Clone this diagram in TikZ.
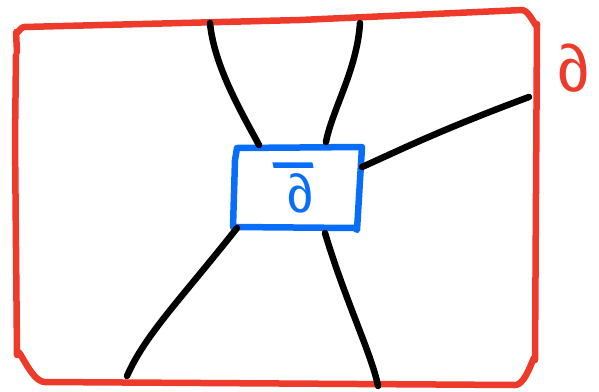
\documentclass[tikz,border=0pt]{standalone}
\usepackage{fontspec}
\newfontfamily\dvsans{Liberation Sans}
\definecolor{redC}{RGB}{238,58,42}
\definecolor{blueC}{RGB}{8,110,250}
\newcommand{\barredsym}[1]{\vbox{\offinterlineskip\halign{\hfil##\hfil\cr\rule{40pt}{5.5pt}\cr\noalign{\vskip 6pt}#1\cr}}}
\begin{document}
\begin{tikzpicture}[x=1pt,y=-1pt,
  redline/.style={draw=redC,line width=6.5pt,line cap=round,line join=round},
  blueline/.style={draw=blueC,line width=6.5pt,line cap=round,line join=round},
  wire/.style={draw=black,line width=6.5pt,line cap=round,line join=round},
  upright/.style={xslant=-0.22,transform shape}]
\useasboundingbox (0,0) rectangle (599,391);
% outer boundary
\draw[redline] (17,52) -- (16,32) to[out=-80,in=180] (24,27) -- (300,20) -- (522,10)
  to[out=0,in=-90] (537,24) -- (535,360) to[out=90,in=0] (515,385) -- (45,382)
  to[out=180,in=90] (17,355) -- (15,140) -- (16,55);
\node[text=redC,font=\dvsans\fontsize{66}{66}\selectfont,inner sep=0,upright] (dlab) at (573,68) {∂};
% inner box
\draw[blueline] (237,148) -- (362,147) -- (357,230) -- (355,228) -- (233,227) -- (235,160) -- cycle;
\node[text=blueC,font=\dvsans\fontsize{54}{54}\selectfont,inner sep=0,upright] (blab) at (298,188) {\barredsym{∂}};
% endpoints
\coordinate (a1) at (210,23); \coordinate (b1) at (259,145);
\coordinate (a2) at (360,23); \coordinate (b2) at (326,142);
\coordinate (a3) at (529,97); \coordinate (b3) at (362,167);
\coordinate (a4) at (127,376); \coordinate (b4) at (237,228);
\coordinate (a5) at (378,386); \coordinate (b5) at (325,233);
\draw[wire] (a1) .. controls (214,65) and (240,110) .. (b1);
\draw[wire] (a2) .. controls (357,70) and (332,110) .. (b2);
\draw[wire] (b3) .. controls (400,150) and (440,130) .. (a3);
\draw[wire] (b4) .. controls (180,300) and (145,335) .. (a4);
\draw[wire] (b5) .. controls (345,300) and (372,355) .. (a5);
\end{tikzpicture}
\end{document}
